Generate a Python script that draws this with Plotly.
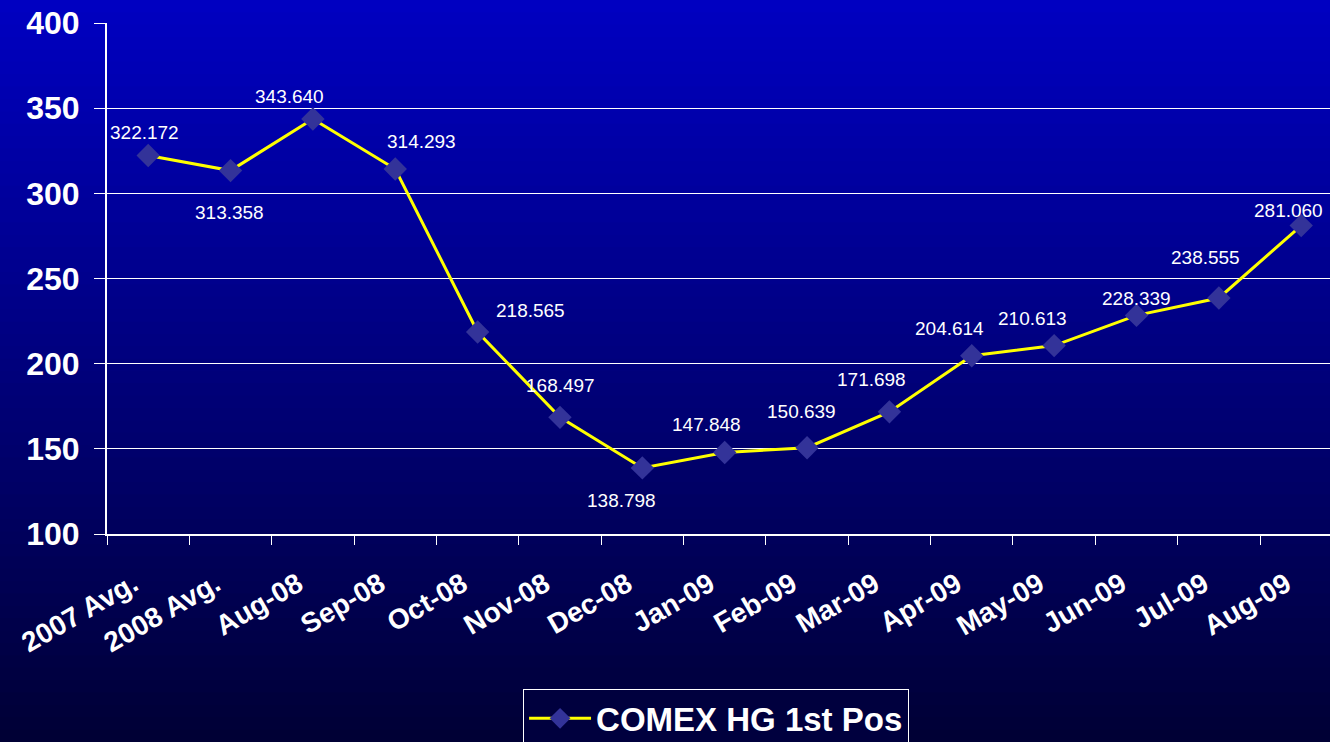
import plotly.graph_objects as go

categories = ["2007 Avg.", "2008 Avg.", "Aug-08", "Sep-08", "Oct-08", "Nov-08", "Dec-08",
              "Jan-09", "Feb-09", "Mar-09", "Apr-09", "May-09", "Jun-09", "Jul-09", "Aug-09"]
values = [322.172, 313.358, 343.640, 314.293, 218.565, 168.497, 138.798,
          147.848, 150.639, 171.698, 204.614, 210.613, 228.339, 238.555, 281.060]
labels = ["322.172", "313.358", "343.640", "314.293", "218.565", "168.497", "138.798",
          "147.848", "150.639", "171.698", "204.614", "210.613", "228.339", "238.555", "281.060"]
series_name = "COMEX HG 1st Pos"
y_ticks = [100, 150, 200, 250, 300, 350, 400]

# label offsets (pixels) relative to each point
label_dx = [-4, -1, -23, 26, 53, 1, -21, -18, -6, -18, -22, -22, 0, -13, -13]
label_dy = [23, -42, 23, 27, 22, 32, -33, 28, 36, 32, 27, 27, 17, 40, 15]

fig = go.Figure()
fig.add_trace(go.Scatter(
    x=categories, y=values, mode="lines+markers", name=series_name,
    line=dict(color="#FFFF00", width=3),
    marker=dict(symbol="diamond", size=18, color="#333399"),
    cliponaxis=False,
))

for c, v, t, dx, dy in zip(categories, values, labels, label_dx, label_dy):
    fig.add_annotation(x=c, y=v, text=t, showarrow=False, xshift=dx, yshift=dy,
                       font=dict(family="Liberation Sans, Arial", size=19, color="white"))

# vertical gradient background via stacked rectangles
top_px, bot_px = 23, 534
H = bot_px - top_px
n = 60
c_top = (0, 0, 194)
c_bot = (0, 0, 52)
for i in range(n):
    p0 = i * 742 / n
    p1 = (i + 1) * 742 / n + 1
    f = (i + 0.5) / n
    col = tuple(round(a + (b - a) * f) for a, b in zip(c_top, c_bot))
    fig.add_shape(type="rect", xref="paper", yref="paper", x0=-0.2, x1=1.2,
                  y0=(bot_px - p1) / H, y1=(bot_px - p0) / H,
                  fillcolor="rgb(%d,%d,%d)" % col, line=dict(width=0), layer="below")

fig.update_layout(
    width=1330, height=742,
    margin=dict(l=107, r=0, t=23, b=208, autoexpand=False),
    paper_bgcolor="rgb(0,0,56)", plot_bgcolor="rgba(0,0,0,0)",
    font=dict(family="Liberation Sans, Arial", color="white"),
    showlegend=True,
    legend=dict(orientation="h", x=0.498, xanchor="center", y=-0.304, yanchor="top",
                bgcolor="rgb(0,0,62)", bordercolor="white", borderwidth=1,
                font=dict(size=33, color="white", family="Liberation Sans, Arial", weight="bold"),
                itemwidth=62),
)
fig.update_xaxes(
    type="category", range=[-0.5, -0.5 + 1223 / 82.36],
    showline=True, linecolor="white", linewidth=2,
    ticks="outside", tickson="boundaries", ticklen=9, tickcolor="white", tickwidth=1,
    tickangle=-30, showgrid=False, ticklabelstandoff=21, ticklabelshift=-15,
    tickfont=dict(size=28, color="white", family="Liberation Sans, Arial", weight="bold"),
)
fig.update_yaxes(
    range=[100, 400], tickvals=y_ticks,
    showline=True, linecolor="white", linewidth=2,
    ticks="outside", ticklen=11, tickcolor="white", tickwidth=1, ticklabelstandoff=8,
    showgrid=True, gridcolor="white", gridwidth=1, zeroline=False,
    tickfont=dict(size=32, color="white", family="Liberation Sans, Arial", weight="bold"),
)

fig.write_html("out.html", config={"displayModeBar": False},
               post_script="document.body.style.margin='0';document.body.style.overflow='hidden';")
